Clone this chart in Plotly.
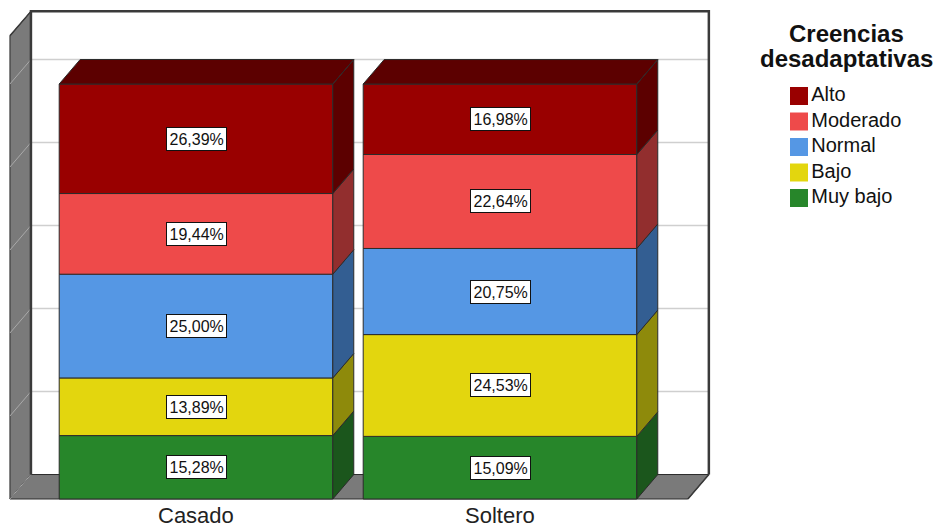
import plotly.graph_objects as go

# ---------------- data ----------------
categories = ["Casado", "Soltero"]
levels = ["Muy bajo", "Bajo", "Normal", "Moderado", "Alto"]   # bottom -> top
muy_bajo = [15.28, 15.09]
bajo = [13.89, 24.53]
normal = [25.00, 20.75]
moderado = [19.44, 22.64]
alto = [26.39, 16.98]
grid_pcts = [0, 20, 40, 60, 80, 100]
legend_title = ["Creencias", "desadaptativas"]

series = [muy_bajo, bajo, normal, moderado, alto]

# ---------------- styles ----------------
front_col = {"Alto": "#990000", "Moderado": "#ee4a4a", "Normal": "#5597e4",
             "Bajo": "#e3d60e", "Muy bajo": "#27862a"}
side_col = {"Alto": "#5c0000", "Moderado": "#922e2e", "Normal": "#335e92",
            "Bajo": "#8e8a0b", "Muy bajo": "#1b561c"}
top_col = side_col
EDGE = "#2b2b2b"
FONT = "Liberation Sans, Arial, sans-serif"

W, H = 939, 532
MB = 27
PH = H - MB
PLOT_W = 720          # pixel width of the chart axes

HW = 0.45          # half bar width (category units)
DX = 0.069         # depth offset x (category units)
DY = 5.9           # depth offset y (percent units)
FL, FR = -0.612, 1.618   # floor front extents
WALL_TOP = 111.6

fig = go.Figure()


def poly(xs, ys, fill, line_color=EDGE, width=1):
    fig.add_trace(go.Scatter(
        x=list(xs) + [xs[0]], y=list(ys) + [ys[0]], mode="lines",
        fill="toself", fillcolor=fill,
        line=dict(color=line_color, width=width),
        hoverinfo="skip", showlegend=False))


def line(xs, ys, color, width=1):
    fig.add_trace(go.Scatter(x=xs, y=ys, mode="lines",
                             line=dict(color=color, width=width),
                             hoverinfo="skip", showlegend=False))


# back wall
poly([FL + DX, FR + DX, FR + DX, FL + DX],
     [DY, DY, WALL_TOP + DY, WALL_TOP + DY], "white", "rgba(0,0,0,0)", 0)
# side wall
poly([FL, FL + DX, FL + DX, FL], [0, DY, WALL_TOP + DY, WALL_TOP], "#7a7a7a", EDGE, 1)
# floor
poly([FL, FR, FR + DX, FL + DX], [0, 0, DY, DY], "#7a7a7a", EDGE, 1)

# grid lines
for g in grid_pcts:
    if g > 0:
        line([FL + DX, FR + DX], [g + DY, g + DY], "#cfcfcf", 1.5)
    line([FL, FL + DX], [g, g + DY], "#a9a9a9", 1)

# wall frame edges
line([FL + DX, FL + DX, FR + DX, FR + DX],
     [DY, WALL_TOP + DY, WALL_TOP + DY, DY], "#3a3a3a", 2.5)
line([FL, FL + DX], [WALL_TOP, WALL_TOP + DY], "#3a3a3a", 1.5)
line([FR, FR + DX], [0, DY], "#3a3a3a", 1.5)

# bars
annotations = []
for i, cat in enumerate(categories):
    base = 0.0
    for k, lev in enumerate(levels):
        v = series[k][i]
        top = base + v
        poly([i - HW, i + HW, i + HW, i - HW], [base, base, top, top], front_col[lev])
        poly([i + HW, i + HW + DX, i + HW + DX, i + HW],
             [base, base + DY, top + DY, top], side_col[lev])
        if k == len(levels) - 1:
            poly([i - HW, i + HW, i + HW + DX, i - HW + DX],
                 [top, top, top + DY, top + DY], top_col[lev])
        annotations.append(dict(
            x=i, y=base + v / 2, xref="x", yref="y",
            text=f"{v:.2f}%".replace(".", ","), showarrow=False,
            font=dict(family=FONT, size=16, color="#111111"),
            bgcolor="white", bordercolor="#111111", borderwidth=1, borderpad=2.5))
        base = top

# category labels under the floor
for i, cat in enumerate(categories):
    annotations.append(dict(
        x=i, y=0, xref="x", yref="y", yanchor="top", yshift=-3,
        text=cat, showarrow=False, borderpad=0,
        font=dict(family=FONT, size=22, color="#222222")))

# manual legend on its own axes (top level first)
leg_levels = list(reversed(levels))
fig.add_trace(go.Scatter(
    x=[29] * len(leg_levels), y=list(range(len(leg_levels))),
    xaxis="x2", yaxis="y2", mode="markers+text",
    text=leg_levels, textposition="middle right",
    textfont=dict(family=FONT, size=20, color="#111111"),
    marker=dict(symbol="square", size=18, color=[front_col[l] for l in leg_levels],
                line=dict(width=0)),
    hoverinfo="skip", showlegend=False))

# legend title
for j, t in enumerate(legend_title):
    annotations.append(dict(
        x=846 / W, y=(PH - (34 + 25 * j)) / PH, xref="paper", yref="paper",
        xanchor="center", yanchor="middle",
        text=f"<b>{t}</b>", showarrow=False,
        font=dict(family=FONT, size=24, color="#111111")))

fig.update_layout(
    width=W, height=H,
    margin=dict(l=0, r=0, t=0, b=MB, autoexpand=False),
    paper_bgcolor="white", plot_bgcolor="white",
    annotations=annotations,
    showlegend=False,
    xaxis=dict(domain=[0, PLOT_W / W], range=[-196 / 304, (PLOT_W - 196) / 304],
               showticklabels=False, showgrid=False, zeroline=False, showline=False,
               ticks="", automargin=False, fixedrange=True),
    yaxis=dict(range=[(499 - PH) / 4.15, 499 / 4.15], showgrid=False,
               zeroline=False, showline=False, showticklabels=False, ticks="",
               automargin=False, fixedrange=True),
    xaxis2=dict(domain=[770 / W, 1], range=[0, W - 770], visible=False,
                anchor="y2", fixedrange=True),
    yaxis2=dict(domain=[0, 1], range=[(PH - 96) / 25.5, -96 / 25.5], visible=False,
                anchor="x2", fixedrange=True),
)

fig.write_html("out.html")
